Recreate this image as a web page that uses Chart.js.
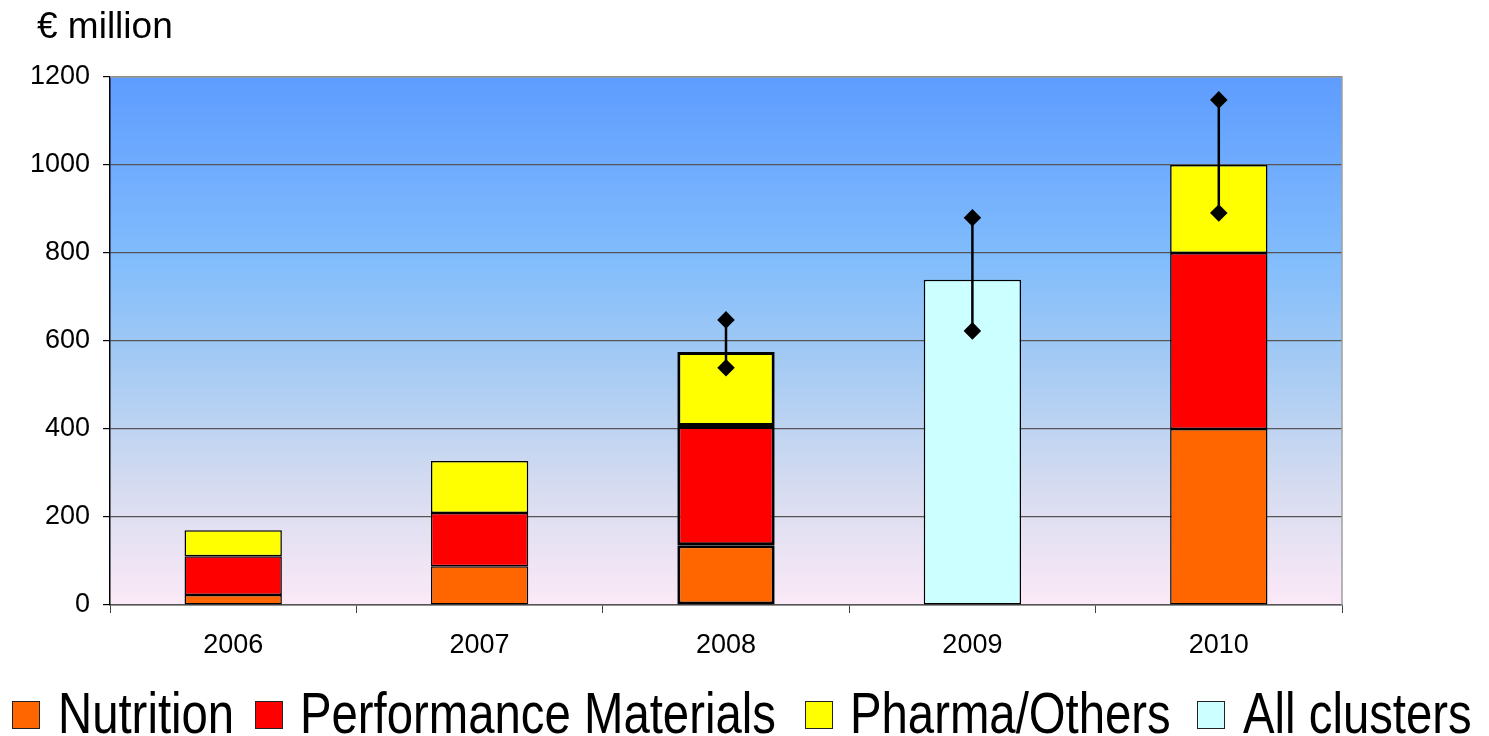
<!DOCTYPE html>
<html>
<head>
<meta charset="utf-8">
<script src="https://cdn.jsdelivr.net/npm/chart.js@4.4.1/dist/chart.umd.min.js"></script>
<style>
  html, body { margin: 0; padding: 0; background: #fff; }
  #wrap { width: 1489px; height: 736px; position: relative; }
  #legend { position: absolute; left: 0; top: 0; width: 1489px; height: 736px; pointer-events: none; }
  .lg-box { position: absolute; top: 701px; width: 28px; height: 28px; box-sizing: border-box; border: 1.5px solid #222; }
  .lg-text { position: absolute; top: 685px; font: 57px/57px "Liberation Sans", Arial, sans-serif; color: #000;
             white-space: nowrap; transform: scaleX(0.83); transform-origin: left top; }
</style>
</head>
<body>
<div id="wrap"><canvas id="chart"></canvas><div id="legend"></div></div>
<script>
const years = ['2006', '2007', '2008', '2009', '2010'];
const nutrition = [23, 88, 136, null, 400];
const performanceMaterials = [88, 121, 271, null, 400];
const pharmaOthers = [59, 118, 168, null, 200];
const allClusters = [null, null, null, 739, null];
// ranges: [year, low, high]
const ranges = [['2008', 539, 648], ['2009', 623, 880], ['2010', 891, 1148]];
const yTicks = [0, 200, 400, 600, 800, 1000, 1200];

// legend slots: box left, text left
const legendSlots = [[12, 58], [255, 300], [805, 850], [1197, 1243]];

// the 2008 column is drawn with a heavier outline
const barBorder = ctx => (ctx.dataIndex === 2 ? 3 : 1.5);

const series = [
  ['Nutrition', nutrition, '#ff6600'],
  ['Performance Materials', performanceMaterials, '#ff0000'],
  ['Pharma/Others', pharmaOthers, '#ffff00'],
  ['All clusters', allClusters, '#ccffff']
];

const bars = series.map(([label, data, color]) => ({
  type: 'bar',
  label: label,
  data: data,
  backgroundColor: color,
  borderColor: '#000',
  borderWidth: barBorder,
  borderSkipped: false,
  stack: 'bars',
  barPercentage: 0.395,
  categoryPercentage: 1
}));

const rangeLines = ranges.map(([yr, lo, hi], i) => ({
  type: 'line',
  label: 'range' + yr,
  data: [{ x: yr, y: lo }, { x: yr, y: hi }],
  borderColor: '#000',
  backgroundColor: '#000',
  borderWidth: 2.5,
  pointStyle: 'rectRot',
  pointRadius: 7,
  pointHoverRadius: 7,
  stack: 'range' + i,
  order: -1
}));

const backdrop = {
  id: 'backdrop',
  beforeDraw(chart) {
    const { ctx, chartArea: a } = chart;
    const g = ctx.createLinearGradient(0, a.top, 0, a.bottom);
    g.addColorStop(0, '#5e9cff');
    g.addColorStop(0.35, '#82bdfc');
    g.addColorStop(0.55, '#a6cbf3');
    g.addColorStop(0.78, '#d6dcf0');
    g.addColorStop(1, '#fce9f7');
    ctx.save();
    ctx.fillStyle = g;
    ctx.fillRect(a.left, a.top, a.right - a.left, a.bottom - a.top);
    ctx.restore();
  },
  afterDraw(chart) {
    const { ctx, chartArea: a } = chart;
    ctx.save();
    ctx.strokeStyle = '#a0a0a0';
    ctx.lineWidth = 1.5;
    ctx.beginPath();
    ctx.moveTo(a.left, a.top);
    ctx.lineTo(a.right, a.top);
    ctx.lineTo(a.right, a.bottom);
    ctx.stroke();
    ctx.fillStyle = '#000';
    ctx.font = '37px "Liberation Sans", Arial, sans-serif';
    ctx.textBaseline = 'alphabetic';
    ctx.fillText('€ million', 37, 38);
    ctx.restore();
  }
};

new Chart(document.getElementById('chart'), {
  data: { labels: years, datasets: [...bars, ...rangeLines] },
  options: {
    responsive: true,
    maintainAspectRatio: false,
    animation: false,
    layout: { padding: { top: 77, right: 147, left: 0, bottom: 0 } },
    scales: {
      x: {
        stacked: true,
        grid: { display: true, drawOnChartArea: false, drawTicks: true, tickLength: 8, color: '#444', offset: true },
        border: { color: '#555', width: 1.5 },
        ticks: { color: '#000', font: { family: '"Liberation Sans", Arial', size: 27 }, padding: 16 },
        afterFit(scale) { scale.height = 131; }
      },
      y: {
        stacked: true,
        min: 0,
        max: 1200,
        afterBuildTicks(scale) { scale.ticks = yTicks.map(v => ({ value: v })); },
        grid: { color: '#555', lineWidth: 1.2, tickLength: 7, tickColor: '#000' },
        border: { color: '#000', width: 1.5 },
        ticks: { color: '#000', font: { family: '"Liberation Sans", Arial', size: 27 }, padding: 13, callback: v => String(v) },
        afterFit(scale) { scale.width = 110; }
      }
    },
    plugins: {
      tooltip: { enabled: false },
      legend: { display: false }
    }
  },
  plugins: [backdrop]
});

// legend built from the bar series
const legend = document.getElementById('legend');
series.forEach(([label, , color], i) => {
  const box = document.createElement('div');
  box.className = 'lg-box';
  box.style.left = legendSlots[i][0] + 'px';
  box.style.background = color;
  const txt = document.createElement('div');
  txt.className = 'lg-text';
  txt.style.left = legendSlots[i][1] + 'px';
  txt.textContent = label;
  legend.appendChild(box);
  legend.appendChild(txt);
});
</script>
</body>
</html>
